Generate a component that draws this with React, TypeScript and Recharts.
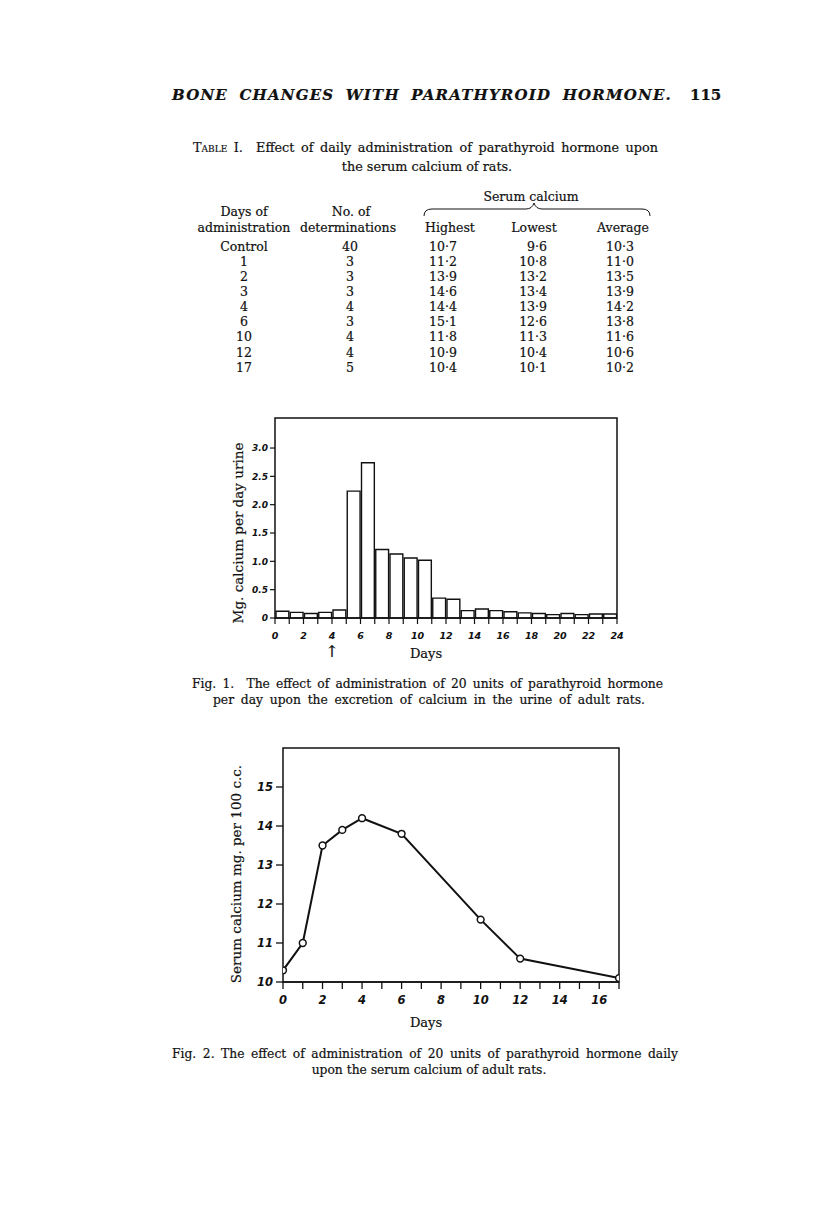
import React from 'react';
import { BarChart, Bar, LineChart, Line, XAxis, YAxis, ReferenceArea } from 'recharts';

// Fig. 1 — urinary calcium, one bar per day
const urineDays = [0, 1, 2, 3, 4, 5, 6, 7, 8, 9, 10, 11, 12, 13, 14, 15, 16, 17, 18, 19, 20, 21, 22, 23];
const urineCalcium = [
  0.12, 0.1, 0.08, 0.1, 0.14, 2.24, 2.74, 1.21, 1.13, 1.06, 1.02, 0.35,
  0.33, 0.13, 0.16, 0.13, 0.11, 0.09, 0.08, 0.06, 0.08, 0.06, 0.07, 0.07,
];
const urineXTicks = [0, 1, 2, 3, 4, 5, 6, 7, 8, 9, 10, 11, 12, 13, 14, 15, 16, 17, 18, 19, 20, 21, 22, 23, 24];
const urineYTicks = [0, 0.5, 1, 1.5, 2, 2.5, 3];
const urineYMax = 3.53;

// Fig. 2 — serum calcium averages
const serumDays = [0, 1, 2, 3, 4, 6, 10, 12, 17];
const serumCalcium = [10.3, 11.0, 13.5, 13.9, 14.2, 13.8, 11.6, 10.6, 10.1];
const serumXTicks = [0, 1, 2, 3, 4, 5, 6, 7, 8, 9, 10, 11, 12, 13, 14, 15, 16, 17];
const serumYTicks = [10, 11, 12, 13, 14, 15];

// Table I
const tableDays = ['Control', '1', '2', '3', '4', '6', '10', '12', '17'];
const tableCounts = ['40', '3', '3', '3', '4', '3', '4', '4', '5'];
const tableHighest = ['10·7', '11·2', '13·9', '14·6', '14·4', '15·1', '11·8', '10·9', '10·4'];
const tableLowest = ['9·6', '10·8', '13·2', '13·4', '13·9', '12·6', '11·3', '10·4', '10·1'];
const tableAverage = ['10·3', '11·0', '13·5', '13·9', '14·2', '13·8', '11·6', '10·6', '10·2'];

// each bar covers one whole day, so it sits at the middle of that day
const urineData = urineDays.map((d, i) => ({ mid: d + 0.5, value: urineCalcium[i] }));
const serumData = serumDays.map((d, i) => ({ day: d, value: serumCalcium[i] }));

const INK = '#111';
const SERIF = '"DejaVu Serif", serif';
const TICK_FONT = { fontFamily: '"DejaVu Sans", sans-serif', fontStyle: 'italic', fontWeight: 700, fill: INK };

const FIG1 = { width: 440, height: 265, top: 13, right: 23, yWidth: 75, xHeight: 52 };
const fig1BarSize = (FIG1.width - FIG1.yWidth - FIG1.right) / urineDays.length;

type TxtProps = {
  x: number;
  y: number;
  w?: number;
  align?: 'left' | 'center' | 'right' | 'justify';
  size?: number;
  style?: React.CSSProperties;
  children: React.ReactNode;
};

const Txt: React.FC<TxtProps> = ({ x, y, w = 0, align = 'left', size = 12.5, style, children }) => {
  let left = x;
  if (align === 'center') left = x - w / 2;
  if (align === 'right') left = x - w;
  return (
    <div
      style={{
        position: 'absolute',
        left,
        top: y - size * 0.65,
        width: w || undefined,
        fontSize: size,
        lineHeight: `${size * 1.3}px`,
        textAlign: align,
        textAlignLast: align === 'justify' ? 'justify' : undefined,
        whiteSpace: align === 'justify' ? 'normal' : 'nowrap',
        ...style,
      }}
    >
      {children}
    </div>
  );
};

const RotLabel: React.FC<{ cx: number; cy: number; size: number; text: string }> = ({ cx, cy, size, text }) => (
  <div
    style={{
      position: 'absolute',
      left: cx - 150,
      top: cy - 10,
      width: 300,
      height: 20,
      lineHeight: '20px',
      fontSize: size,
      textAlign: 'center',
      transform: 'rotate(-90deg)',
      whiteSpace: 'nowrap',
    }}
  >
    {text}
  </div>
);

const SerumDot = (props: any) => {
  const { cx, cy } = props;
  if (cx == null || cy == null) return null;
  return <circle cx={cx} cy={cy} r={3.4} fill="#fff" stroke={INK} strokeWidth={1.5} />;
};

const rowY = (i: number) => 247 + i * 15.1;

export default function App() {
  return (
    <div
      style={{
        position: 'absolute',
        left: 0,
        top: 0,
        width: 816,
        height: 1221,
        background: '#fff',
        color: INK,
        fontFamily: SERIF,
        WebkitTextStroke: '0.2px #111',
        overflow: 'hidden',
      }}
    >
      {/* running head */}
      <Txt x={172} y={96} w={500} align="justify" size={15} style={{ fontStyle: 'italic', fontWeight: 700, letterSpacing: 1.2 }}>
        BONE CHANGES WITH PARATHYROID HORMONE.
      </Txt>
      <Txt x={720} y={96} w={30} align="right" size={15} style={{ fontWeight: 700 }}>
        115
      </Txt>

      {/* table title */}
      <Txt x={193} y={148} w={465} align="justify" size={12.8}>
        <span style={{ fontVariant: 'small-caps' }}>Table</span> I.&nbsp; Effect of daily administration of parathyroid hormone upon
      </Txt>
      <Txt x={427} y={167} w={200} align="center" size={12.8}>
        the serum calcium of rats.
      </Txt>

      {/* table headers */}
      <Txt x={531} y={197} w={140} align="center" size={12.5}>Serum calcium</Txt>
      <svg style={{ position: 'absolute', left: 420, top: 200, overflow: 'visible' }} width={236} height={20}>
        <path
          d="M4 16 Q4 9 12 9 L106 9 Q112 9 114 3 Q116 9 122 9 L222 9 Q230 9 230 16"
          fill="none"
          stroke={INK}
          strokeWidth={1}
        />
      </svg>
      <Txt x={244} y={212} w={120} align="center" size={12.5}>Days of</Txt>
      <Txt x={351} y={212} w={120} align="center" size={12.5}>No. of</Txt>
      <Txt x={244} y={228} w={120} align="center" size={12.5}>administration</Txt>
      <Txt x={348} y={228} w={120} align="center" size={12.5}>determinations</Txt>
      <Txt x={450} y={228} w={80} align="center" size={12.5}>Highest</Txt>
      <Txt x={534} y={228} w={80} align="center" size={12.5}>Lowest</Txt>
      <Txt x={623} y={228} w={80} align="center" size={12.5}>Average</Txt>

      {tableDays.map((d, i) => (
        <React.Fragment key={d}>
          <Txt x={244} y={rowY(i)} w={80} align="center" size={12.5}>{d}</Txt>
          <Txt x={350} y={rowY(i)} w={60} align="center" size={12.5}>{tableCounts[i]}</Txt>
          <Txt x={443} y={rowY(i)} w={60} align="center" size={12.5}>{tableHighest[i]}</Txt>
          <Txt x={547} y={rowY(i)} w={60} align="right" size={12.5}>{tableLowest[i]}</Txt>
          <Txt x={620} y={rowY(i)} w={60} align="center" size={12.5}>{tableAverage[i]}</Txt>
        </React.Fragment>
      ))}

      {/* Fig. 1 */}
      <div style={{ position: 'absolute', left: 200, top: 405, WebkitTextStroke: '0px' }}>
        <BarChart
          width={FIG1.width}
          height={FIG1.height}
          data={urineData}
          barCategoryGap={0}
          barGap={0}
          margin={{ top: FIG1.top, right: FIG1.right, left: 0, bottom: 0 }}
        >
          <XAxis
            dataKey="mid"
            type="number"
            domain={[0, 24]}
            ticks={urineXTicks}
            interval={0}
            allowDataOverflow
            height={FIG1.xHeight}
            tickSize={6}
            tickMargin={8}
            tickFormatter={(v: number) => (v % 2 === 0 ? String(v) : '')}
            tick={{ ...TICK_FONT, fontSize: 9.5 }}
            axisLine={{ stroke: INK, strokeWidth: 1.5 }}
            tickLine={{ stroke: INK, strokeWidth: 1.2 }}
          />
          <YAxis
            domain={[0, urineYMax]}
            ticks={urineYTicks}
            interval={0}
            allowDataOverflow
            width={FIG1.yWidth}
            tickSize={5}
            tickMargin={2}
            tickFormatter={(v: number) => (v === 0 ? '0' : v.toFixed(1))}
            tick={{ ...TICK_FONT, fontSize: 9 }}
            axisLine={false}
            tickLine={{ stroke: INK, strokeWidth: 1.2 }}
          />
          <ReferenceArea
            x1={0}
            x2={24}
            y1={0}
            y2={urineYMax}
            fill="none"
            fillOpacity={0}
            stroke={INK}
            strokeWidth={1.5}
          />
          <Bar
            dataKey="value"
            barSize={fig1BarSize}
            fill="#fff"
            stroke={INK}
            strokeWidth={1.4}
            isAnimationActive={false}
          />
        </BarChart>
      </div>
      <RotLabel cx={238} cy={533} size={13.5} text="Mg. calcium per day urine" />
      <Txt x={332} y={652} w={20} align="center" size={16}>↑</Txt>
      <Txt x={426} y={654} w={80} align="center" size={13}>Days</Txt>

      <Txt x={192} y={685} w={471} align="justify" size={12.3}>
        Fig. 1.&nbsp; The effect of administration of 20 units of parathyroid hormone
      </Txt>
      <Txt x={213} y={701} w={432} align="justify" size={12.3}>
        per day upon the excretion of calcium in the urine of adult rats.
      </Txt>

      {/* Fig. 2 */}
      <div style={{ position: 'absolute', left: 200, top: 735, WebkitTextStroke: '0px' }}>
        <LineChart
          width={440}
          height={300}
          data={serumData}
          margin={{ top: 13, right: 21, left: 0, bottom: 0 }}
        >
          <XAxis
            dataKey="day"
            type="number"
            domain={[0, 17]}
            ticks={serumXTicks}
            interval={0}
            allowDataOverflow
            height={53}
            tickSize={7}
            tickMargin={7}
            tickFormatter={(v: number) => (v % 2 === 0 && v <= 16 ? String(v) : '')}
            tick={{ ...TICK_FONT, fontSize: 11.5 }}
            axisLine={{ stroke: INK, strokeWidth: 1.5 }}
            tickLine={{ stroke: INK, strokeWidth: 1.3 }}
          />
          <YAxis
            domain={[10, 16]}
            ticks={serumYTicks}
            interval={0}
            allowDataOverflow
            width={83}
            tickSize={7}
            tickMargin={3}
            tick={{ ...TICK_FONT, fontSize: 11.5 }}
            axisLine={false}
            tickLine={{ stroke: INK, strokeWidth: 1.3 }}
          />
          <ReferenceArea
            x1={0}
            x2={17}
            y1={10}
            y2={16}
            fill="none"
            fillOpacity={0}
            stroke={INK}
            strokeWidth={1.5}
          />
          <Line
            type="linear"
            dataKey="value"
            stroke={INK}
            strokeWidth={2}
            dot={<SerumDot />}
            isAnimationActive={false}
          />
        </LineChart>
      </div>
      <RotLabel cx={236} cy={874} size={13.5} text="Serum calcium mg. per 100 c.c." />
      <Txt x={426} y={1023} w={80} align="center" size={13}>Days</Txt>

      <Txt x={172} y={1055} w={506} align="justify" size={12.3}>
        Fig. 2. The effect of administration of 20 units of parathyroid hormone daily
      </Txt>
      <Txt x={429} y={1071} w={260} align="center" size={12.3}>
        upon the serum calcium of adult rats.
      </Txt>
    </div>
  );
}
